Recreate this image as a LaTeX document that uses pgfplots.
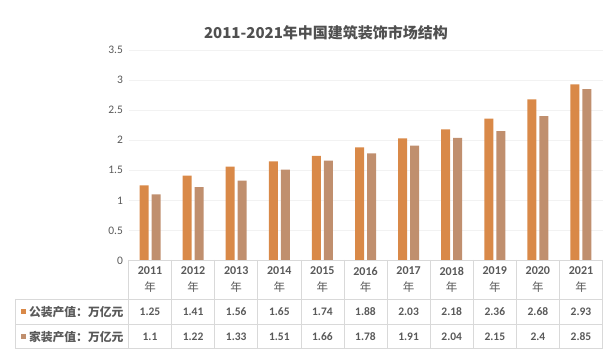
\documentclass[border=0pt]{standalone}
\usepackage{pgfplots}
\pgfplotsset{compat=1.18}
\usepackage{fontspec}
\setmainfont{Carlito}
\newfontfamily\cjk{Noto Sans CJK SC}
\definecolor{gz}{RGB}{217,137,72}
\definecolor{jz}{RGB}{192,143,110}
\definecolor{txt}{RGB}{89,89,89}
\definecolor{grd}{RGB}{217,217,217}
\begin{document}
\begin{tikzpicture}
\useasboundingbox (0pt,0pt) rectangle (606pt,351pt);
\begin{axis}[
  at={(128.5pt,90.5pt)}, anchor=south west,
  scale only axis, width=474pt, height=210.5pt,
  xmin=-0.5, xmax=10.5, ymin=0, ymax=3.5,
  ytick distance=0.5, xtick=\empty,
  axis line style={draw=none}, major tick length=0pt,
  ymajorgrids, grid style={draw=black!5},
  ybar=3pt, bar width=9pt,
  /pgf/number format/assume math mode=true,
  yticklabel style={font=\fontsize{11.5}{13}\selectfont, text=txt, /pgf/number format/fixed, xshift=-2pt},
  clip=false,
]
\addplot[fill=gz, draw=none] coordinates {(0,1.25)(1,1.41)(2,1.56)(3,1.65)(4,1.74)(5,1.88)(6,2.03)(7,2.18)(8,2.36)(9,2.68)(10,2.93)};
\addplot[fill=jz, draw=none] coordinates {(0,1.1)(1,1.22)(2,1.33)(3,1.51)(4,1.66)(5,1.78)(6,1.91)(7,2.04)(8,2.15)(9,2.4)(10,2.85)};
\end{axis}
\begin{scope}[x=1pt,y=1pt]
% title
\node[font=\cjk\bfseries\fontsize{15}{17}\selectfont, text=txt!90!black] at (326,318) {2011-2021年中国建筑装饰市场结构};
% table grid
\draw[grd, line width=0.7pt] (128.5,91) -- (602.6,91);
\draw[grd, line width=0.7pt] (15,52) -- (602.6,52);
\draw[grd, line width=0.7pt] (15,27) -- (602.6,27);
\draw[grd, line width=0.7pt] (15,3) -- (602.6,3);
\draw[grd, line width=0.7pt] (15,52) -- (15,3);
\foreach \k in {0,...,11} {\draw[grd, line width=0.7pt] ({128.5+43.1*\k},91) -- ({128.5+43.1*\k},3);}
% header
\fill[gz] (20.5,36.5) rectangle (25.5,41.5);
\node[anchor=west, font=\cjk\bfseries\fontsize{11.8}{13}\selectfont, text=txt] at (25.5,39) {公装产值：万亿元};
\fill[jz] (20.5,11.5) rectangle (25.5,16.5);
\node[anchor=west, font=\cjk\bfseries\fontsize{11.8}{13}\selectfont, text=txt] at (25.5,14) {家装产值：万亿元};
% cells
\foreach \i/\yr/\a/\b in {0/2011/1.25/1.1,1/2012/1.41/1.22,2/2013/1.56/1.33,3/2014/1.65/1.51,4/2015/1.74/1.66,5/2016/1.88/1.78,6/2017/2.03/1.91,7/2018/2.18/2.04,8/2019/2.36/2.15,9/2020/2.68/2.4,10/2021/2.93/2.85} {
  \node[font=\bfseries\fontsize{12}{13}\selectfont, text=txt] at ({150+43.1*\i},80) {\yr};
  \node[font=\cjk\fontsize{11.5}{13}\selectfont, text=txt] at ({150+43.1*\i},64) {年};
  \node[font=\bfseries\fontsize{11.5}{13}\selectfont, text=txt] at ({150+43.1*\i},39.5) {\a};
  \node[font=\bfseries\fontsize{11.5}{13}\selectfont, text=txt] at ({150+43.1*\i},14.5) {\b};
}
\end{scope}
\end{tikzpicture}
\end{document}
